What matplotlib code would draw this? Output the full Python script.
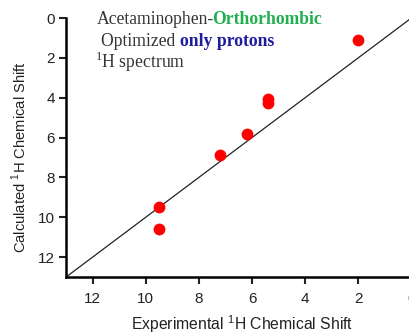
import matplotlib
matplotlib.use("Agg")
import matplotlib.pyplot as plt

# Data
exp_shift = [2.0, 5.4, 5.4, 6.2, 7.2, 9.5, 9.5]
calc_shift = [1.1, 4.05, 4.25, 5.8, 6.9, 9.5, 10.6]
line_x = [13, 0]
line_y = [13, 0]
x_ticks = [12, 10, 8, 6, 4, 2, 0]
y_ticks = [0, 2, 4, 6, 8, 10, 12]

plt.rcParams["mathtext.fontset"] = "custom"
plt.rcParams["mathtext.rm"] = "Liberation Sans"

W, H = 409, 334
fig = plt.figure(figsize=(W / 100, H / 100), dpi=100)
left, right = 66.1, 411.4
top, bottom = 18.0, 277.0
aw, ah = right - left, bottom - top
ax = fig.add_axes([left / W, (H - bottom) / H, aw / W, ah / H])

ax.plot(line_x, line_y, color="#222222", lw=0.9, zorder=2)
ax.plot(exp_shift, calc_shift, "o", color="#ff0000", ms=8.5, mec="none", zorder=3)

ax.set_xlim(13, 0)
ax.set_ylim(13, 0)
ax.set_xticks(x_ticks)
ax.set_yticks(y_ticks)

for s in ["top", "right"]:
    ax.spines[s].set_visible(False)
for s in ["left", "bottom"]:
    ax.spines[s].set_linewidth(1.8)
ax.tick_params(direction="out", length=5, width=1.5, labelsize=11, pad=3,
               labelfontfamily="Liberation Sans", colors="#222222")
ax.tick_params(axis="x", pad=6)

ax.set_xlabel("Experimental $^{1}$H Chemical Shift", fontsize=11.3,
              family="Liberation Sans", color="#222222")
ax.set_ylabel("Calculated $^{1}$H Chemical Shift", fontsize=10.6,
              family="Liberation Sans", color="#222222")
ax.xaxis.set_label_coords((242 - left) / aw, -(313 - bottom) / ah)
ax.yaxis.set_label_coords((29 - left) / aw, (bottom - 157) / ah)

serif = "Liberation Serif"
fs = 12.7
t1 = fig.text(97 / W, 1 - 24 / H, "Acetaminophen-", fontsize=fs, family=serif,
              color="#333333", va="baseline", ha="left")
ax.annotate("Orthorhombic", xy=(1, 0), xycoords=t1, xytext=(-1.5, 0),
            textcoords="offset points", fontsize=fs, family=serif,
            color="#22b04f", fontweight="bold", va="bottom", ha="left")
t2 = fig.text(101 / W, 1 - 46 / H, "Optimized ", fontsize=fs, family=serif,
              color="#333333", va="baseline", ha="left")
ax.annotate("only protons", xy=(1, 0), xycoords=t2, xytext=(0.5, 0),
            textcoords="offset points", fontsize=fs, family=serif,
            color="#1c1c9c", fontweight="bold", va="bottom", ha="left")
fig.text(95 / W, 1 - 68 / H, "$^{\\mathregular{1}}$H spectrum", fontsize=fs, family=serif,
         color="#333333", va="baseline", ha="left")

fig.savefig("out.png", dpi=100)
